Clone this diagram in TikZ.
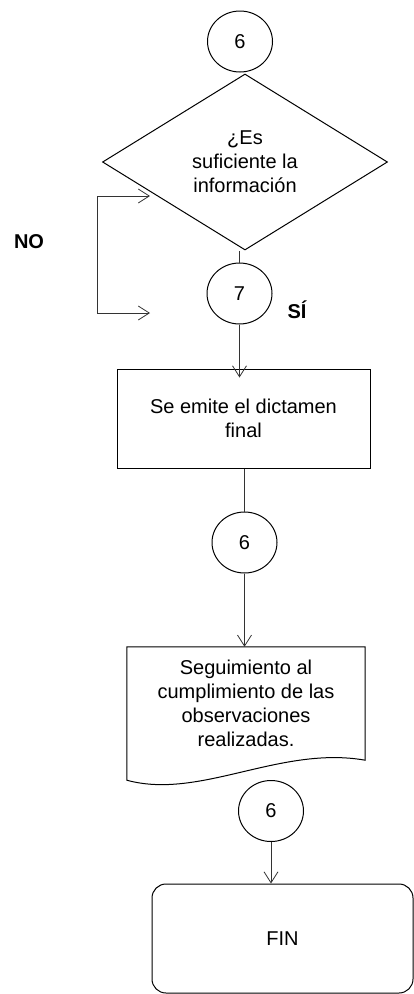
\documentclass[tikz,border=0pt]{standalone}
\usepackage{fontspec}
\setmainfont{Liberation Sans}
\usetikzlibrary{shapes.geometric, arrows.meta}

\begin{document}
\begin{tikzpicture}[x=1pt, y=-1pt,
  font=\fontsize{20}{24}\selectfont,
  conn/.style={draw=black!80, line width=0.8pt},
  arr/.style={conn, -{Straight Barb[length=11pt, width=14pt]}},
  ref/.style={draw, line width=1pt, ellipse, minimum width=65pt, minimum height=61pt, inner sep=0pt},
  boxed/.style={draw, line width=1pt, align=center}]
\useasboundingbox (0,0) rectangle (414,994);
% connectors by the page
\node[ref] (c6a) at (240,41.5) {6};
\node[boxed, diamond, minimum width=285pt, minimum height=176pt, shape aspect=1.62, inner sep=0pt] (dec) at (245,162) {¿Es\\suficiente la\\información};
\node[ref] (c7) at (239.5,293.5) {7};
\node[font=\fontsize{20}{24}\selectfont\bfseries] (si) at (297,310) {SÍ};
\node[font=\fontsize{20}{24}\selectfont\bfseries] (no) at (29,242) {NO};
\node[boxed, minimum width=253pt, minimum height=99pt] (dict) at (243.5,418.5) {Se emite el dictamen\\final};
\node[ref] (c6b) at (244.5,542.5) {6};
\node[align=center, minimum width=238pt, minimum height=113pt, inner sep=0pt] (doc) at (246,703.5) {Seguimiento al\\cumplimiento de las\\observaciones\\realizadas.};
\draw[line width=1pt] (doc.south east) -- (doc.north east) -- (doc.north west) -- ([yshift=-20pt]doc.south west)
  .. controls +(73,20) and +(-85,-15) .. (doc.south east) -- cycle;
\node[ref] (c6c) at (271,811) {6};
\node[boxed, rounded corners=14pt, minimum width=261pt, minimum height=109pt] (fin) at (282.5,938.5) {FIN};

% NO loop
\coordinate (noTop) at (97,196);
\coordinate (noBot) at (97,313);
\coordinate (noIn) at (150,196);
\coordinate (noOut) at (150,313);
\draw[arr] (noBot) -- (noTop) -- (noIn);
\draw[arr] (noBot) -- (noOut);

\draw[conn] (c7.north) -- (c7.north |- dec.south);
\draw[arr, shorten >=-9pt] (c7.south) -- (c7.south |- dict.north);
\draw[conn] (dict.south -| c6b.north) -- (c6b.north);
\draw[arr] (c6b.south) -- (c6b.south |- doc.north);
\draw[arr] (c6c.south) -- (c6c.south |- fin.north);
\end{tikzpicture}
\end{document}
